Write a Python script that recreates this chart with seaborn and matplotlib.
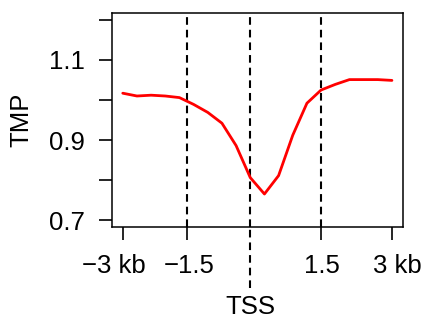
import matplotlib
matplotlib.use("Agg")
import matplotlib.pyplot as plt
import matplotlib.transforms as mtransforms
import seaborn as sns
import pandas as pd

# data
bins = list(range(1, 21))
tmp = [1.017, 1.010, 1.012, 1.010, 1.006, 0.989, 0.969, 0.942, 0.886, 0.806,
       0.765, 0.811, 0.912, 0.992, 1.025, 1.039, 1.051, 1.051, 1.051, 1.049]
x_tick_pos = [1, 5.5, 15, 20]
x_tick_labels = ["\u22123 kb", "\u22121.5", "1.5", "3 kb"]
tss_pos = 10
marker_lines = [5.5, 10, 15]
y_ticks = [0.7, 0.8, 0.9, 1.0, 1.1, 1.2]
y_tick_labels = ["0.7", "", "0.9", "", "1.1", ""]

df = pd.DataFrame({"bin": bins, "TMP": tmp})

sns.set_style("ticks")
plt.rcParams["font.family"] = ["Liberation Sans", "DejaVu Sans"]
plt.rcParams["lines.scale_dashes"] = False
plt.rcParams["text.color"] = "black"
plt.rcParams["axes.labelcolor"] = "black"

FS = 18.5

fig = plt.figure(figsize=(4.27, 3.2), dpi=100)
ax = fig.add_axes([112/427, 1 - 227/320, 290.7/427, 214/320])

sns.lineplot(data=df, x="bin", y="TMP", color="#ff0000", linewidth=2.0, ax=ax)

ax.set_xlim(0.24, 20.76)
ax.set_ylim(0.6825, 1.2175)

for xv in marker_lines:
    ax.axvline(xv, color="black", linewidth=1.5, dashes=(5.5, 3.6), zorder=1)
ax.axvline(tss_pos, ymin=-0.285, ymax=0, color="black", linewidth=1.5,
           dashes=(5.5, 3.6), clip_on=False)
trans = mtransforms.blended_transform_factory(ax.transData, ax.transAxes)
ax.text(tss_pos, -0.375, "TSS", transform=trans, ha="center", va="center",
        fontsize=FS, color="black")

ax.set_xticks(x_tick_pos)
ax.set_xticklabels(x_tick_labels, fontsize=FS)
ax.set_yticks(y_ticks)
ax.set_yticklabels(y_tick_labels, fontsize=FS)
ax.tick_params(axis="both", direction="out", length=9.4, width=1.2,
               color="black", labelcolor="black")
ax.tick_params(axis="y", pad=10)
ax.tick_params(axis="x", pad=10)

# small horizontal nudges of x tick labels (pixels)
nudges = [-9, 3, 1, 5]
for lab, dx in zip(ax.get_xticklabels(), nudges):
    lab.set_transform(lab.get_transform() +
                      mtransforms.ScaledTranslation(dx / 100, 0, fig.dpi_scale_trans))

ax.set_xlabel("")
ax.set_ylabel("TMP", fontsize=FS, color="black")
ax.yaxis.set_label_coords(-0.27, 0.5)

for s in ax.spines.values():
    s.set_visible(True)
    s.set_linewidth(1.1)
    s.set_color("black")

fig.savefig("out.png", dpi=100)
